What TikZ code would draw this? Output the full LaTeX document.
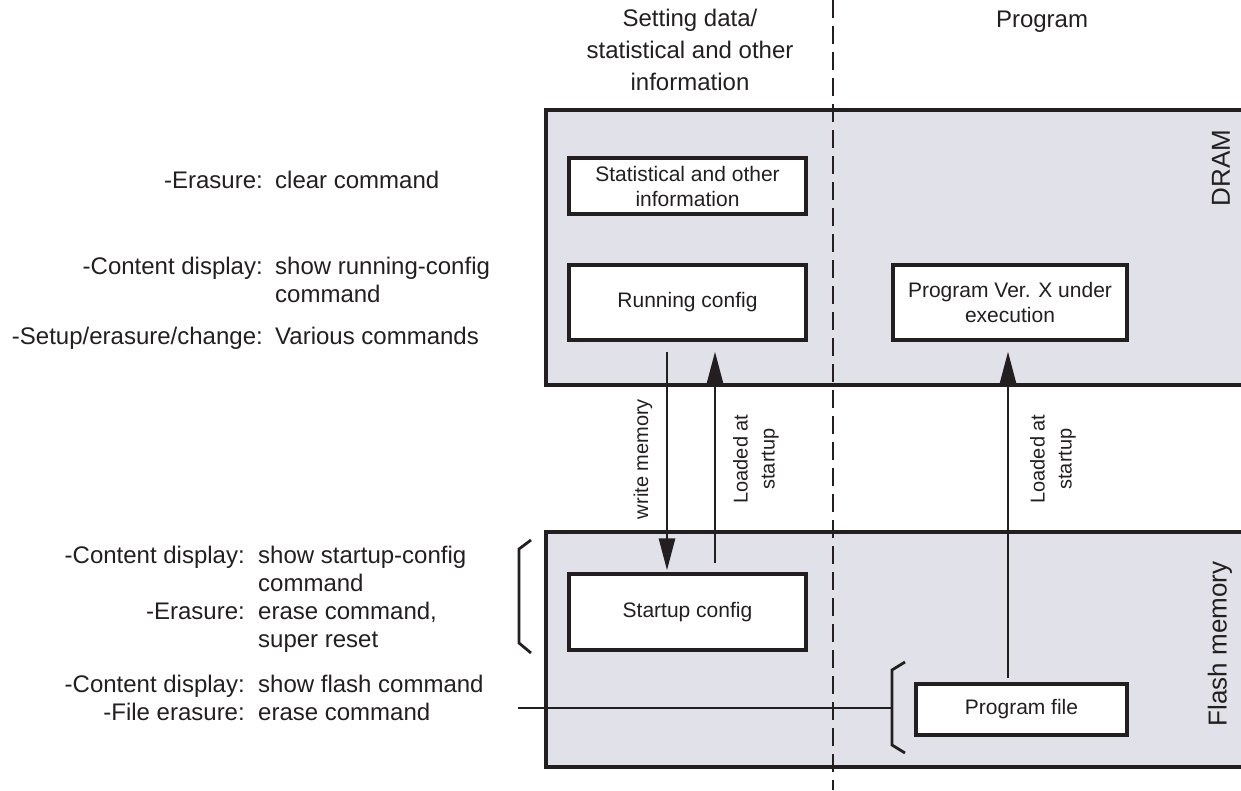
\documentclass[tikz,border=0pt]{standalone}
\usepackage{fontspec}
\setmainfont{Liberation Sans}
\usepackage{tikz}
\usetikzlibrary{arrows.meta,positioning,calc}
\definecolor{inkgray}{RGB}{35,31,32}
\definecolor{memfill}{RGB}{225,226,233}
\tikzset{
  area/.style={rectangle,draw=inkgray,fill=memfill,line width=3.2pt,inner sep=0pt},
  membox/.style={rectangle,draw=inkgray,fill=white,line width=3.2pt,inner sep=0pt,align=center,
    font=\fontsize{21}{25}\selectfont,text=inkgray},
  arr/.style={-{Triangle[length=32pt,width=16pt]},line width=2.8pt,draw=inkgray},
  divider/.style={line width=2.6pt,draw=inkgray,dash pattern=on 18pt off 8pt},
  bracket/.style={line width=2.8pt,draw=inkgray},
  head/.style={align=center,font=\fontsize{24}{32}\selectfont,text=inkgray},
  lbl/.style={anchor=mid east,inner sep=0pt,font=\fontsize{24}{28}\selectfont,text=inkgray},
  val/.style={anchor=mid west,inner sep=0pt,font=\fontsize{24}{28}\selectfont,text=inkgray},
  sidelabel/.style={rotate=90,font=\fontsize{26}{30}\selectfont,text=inkgray},
  arrlabel/.style={rotate=90,align=center,font=\fontsize{20}{27}\selectfont,text=inkgray}
}

\begin{document}
\begin{tikzpicture}[x=1pt,y=-1pt]
\useasboundingbox (0,0) rectangle (1241,790);

% memory areas
\node[area,minimum width=699pt,minimum height=275pt] (dram) at (895.5,247.5) {};
\node[area,minimum width=699pt,minimum height=235pt] (flash) at (895.5,649.5) {};
\node[sidelabel] (ldram) at (1221,168) {DRAM};
\node[sidelabel] (lflash) at (1220,644) {Flash memory};

% column divider and headings
\coordinate (divtop) at (833,0);
\coordinate (divbot) at (833,790);
\draw[divider] (divtop) -- (divbot);
\node[head] (hdata) at (690,50) {Setting data/\\statistical and other\\information};
\node[head] (hprog) at (1042,22) {Program};

% contents
\node[membox,minimum width=237pt,minimum height=56pt] (stat) at (687.5,186) {Statistical and other\\information};
\node[membox,minimum width=237pt,minimum height=75pt] (run) at (687.5,302.5) {Running config};
\node[membox,minimum width=234pt,minimum height=75pt] (exec) at (1010,302.5) {Program Ver. X under\\execution};
\node[membox,minimum width=237pt,minimum height=76pt] (start) at (687.5,612) {Startup config};
\node[membox,minimum width=211pt,minimum height=51pt] (pfile) at (1021.5,709.5) {Program file};

% transfers
\draw[arr] ([xshift=-20.5pt,yshift=-10pt]run.south) -- ([xshift=-20.5pt,yshift=2pt]start.north);
\draw[arr] ([xshift=27.5pt,yshift=9pt]start.north) -- ([xshift=27.5pt,yshift=-10pt]run.south);
\draw[arr] ([xshift=-13.5pt,yshift=4pt]pfile.north) -- ([xshift=-2pt,yshift=-10pt]exec.south);
\node[arrlabel] (lwrite) at (643,459) {write memory};
\node[arrlabel] (lload) at (756,459) {Loaded at\\startup};
\node[arrlabel] (lloadp) at (1053,459) {Loaded at\\startup};

% commands for DRAM
\node[lbl] (c1) at (263,186) {-Erasure:};
\node[val] (v1) at (275,186) {clear command};
\node[lbl] (c2) at (263,272) {-Content display:};
\node[val] (v2) at (275,272) {show running-config};
\node[val] (v2b) at (275,300) {command};
\node[lbl] (c3) at (263,342) {-Setup/erasure/change:};
\node[val] (v3) at (275,342) {Various commands};

% commands for flash memory
\node[lbl] (c4) at (245,561) {-Content display:};
\node[val] (v4) at (258,561) {show startup-config};
\node[val] (v4b) at (258,589) {command};
\node[lbl] (c5) at (245,617) {-Erasure:};
\node[val] (v5) at (258,617) {erase command,};
\node[val] (v5b) at (258,645) {super reset};
\node[lbl] (c6) at (245,690) {-Content display:};
\node[val] (v6) at (258,690) {show flash command};
\node[lbl] (c7) at (245,718) {-File erasure:};
\node[val] (v7) at (258,718) {erase command};

% brackets
\coordinate (bl1) at (531,540);
\coordinate (bl2) at (519,549);
\coordinate (bl3) at (519,643);
\coordinate (bl4) at (531,653);
\draw[bracket] (bl1) -- (bl2) -- (bl3) -- (bl4);
\coordinate (br1) at (905,662);
\coordinate (br2) at (892,670);
\coordinate (br3) at (892,745);
\coordinate (br4) at (905,753);
\draw[bracket] (br1) -- (br2) -- (br3) -- (br4);
\coordinate (fl) at (518,708);
\draw[bracket] (fl) -- (fl -| br2);

\end{tikzpicture}
\end{document}
